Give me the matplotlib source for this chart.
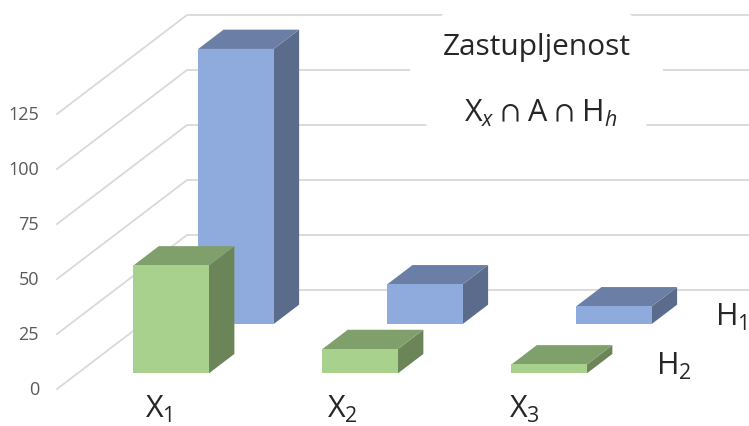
import matplotlib
matplotlib.use("Agg")
import matplotlib.pyplot as plt
from matplotlib.patches import Ellipse, Polygon

plt.rcParams['font.family'] = ['Open Sans', 'DejaVu Sans']
plt.rcParams['mathtext.fontset'] = 'custom'
plt.rcParams['mathtext.rm'] = 'Open Sans'
plt.rcParams['mathtext.it'] = 'Open Sans:italic'
plt.rcParams['mathtext.fallback'] = 'stixsans'

categories = ["X$_{1}$", "X$_{2}$", "X$_{3}$"]
series_names = ["H$_{1}$", "H$_{2}$"]
h1_values = [125, 18, 8]
h2_values = [49, 11, 4]
ticks = [0, 25, 50, 75, 100, 125]

# oblique projection of the 3d box, all in pixels
LEFT = 57
BOTTOM = 389
CAT_STEP = 189
BAR_WIDTH = 0.4
BAR_SHIFT = -0.005
PX_PER_UNIT = 2.2
DEPTH_X = 130
DEPTH_Y = 99
BAR_DEPTH = 0.195
H1_DEPTH = 0.657
H2_DEPTH = 0.159

GRID = '#d9d9d9'
TICK = '#595959'
TEXT = '#262626'
BLUE = ('#8faadc', '#6b7fa6', '#5b6b8c')
GREEN = ('#a9d18e', '#7f9f6b', '#6c8558')


def project(cat, depth, value):
    x = LEFT + CAT_STEP * cat + DEPTH_X * depth
    y = BOTTOM - PX_PER_UNIT * value - DEPTH_Y * depth
    return x, y


def draw_bar(ax, cat, depth, value, colors):
    x0 = cat + 0.5 + BAR_SHIFT - BAR_WIDTH / 2
    x1 = cat + 0.5 + BAR_SHIFT + BAR_WIDTH / 2
    d1 = depth + BAR_DEPTH
    front = [project(x0, depth, 0), project(x1, depth, 0),
             project(x1, depth, value), project(x0, depth, value)]
    top = [project(x0, depth, value), project(x1, depth, value),
           project(x1, d1, value), project(x0, d1, value)]
    side = [project(x1, depth, 0), project(x1, d1, 0),
            project(x1, d1, value), project(x1, depth, value)]
    for pts, c in zip((side, top, front), (colors[2], colors[1], colors[0])):
        ax.add_patch(Polygon(pts, closed=True, facecolor=c, edgecolor='none', zorder=4))


fig = plt.figure(figsize=(7.49, 4.26), dpi=100)
ax = fig.add_axes([0, 0, 1, 1])
ax.set_xlim(0, 749)
ax.set_ylim(426, 0)
ax.axis('off')

# gridlines on the side and back walls
for t in ticks:
    a = project(0, 0, t)
    b = project(0, 1, t)
    c = project(3, 1, t)
    ax.plot([a[0], b[0], c[0]], [a[1], b[1], c[1]], color=GRID, linewidth=1.3, zorder=1)
    ax.text(39, a[1] + 1, str(t), ha='right', va='center', fontsize=13, color=TICK)

# white backdrop behind the title
ax.add_patch(Ellipse((536.5, 78), 254, 188, facecolor='white', edgecolor='none', zorder=2))
ax.text(537, 48, "Zastupljenost", ha='center', va='center', fontsize=21.5, color=TEXT, zorder=5)
ax.text(541, 122, r"X$_{x}$ $\cap$ A $\cap$ H$_{h}$", ha='center', va='baseline', fontsize=22, color=TEXT, zorder=5)

for i in range(len(categories)):
    draw_bar(ax, i, H1_DEPTH, h1_values[i], BLUE)
for i in range(len(categories)):
    draw_bar(ax, i, H2_DEPTH, h2_values[i], GREEN)

for i, label in enumerate(categories):
    ax.text(145 + 182 * i, 418, label, ha='left', va='baseline', fontsize=22, color=TEXT)
ax.text(715, 326, series_names[0], ha='left', va='baseline', fontsize=22, color=TEXT)
ax.text(656, 375, series_names[1], ha='left', va='baseline', fontsize=22, color=TEXT)

fig.savefig("out.png", dpi=100)
